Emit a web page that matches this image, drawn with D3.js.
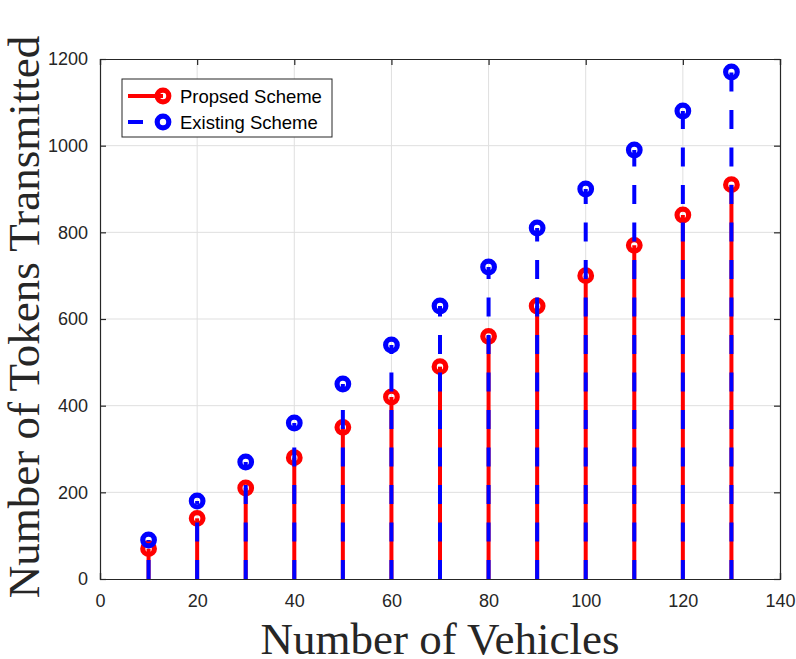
<!DOCTYPE html>
<html lang="en">
<head>
<meta charset="utf-8">
<title>tokens transmitted</title>
<script type="text/javascript" src="https://d3js.org/d3.v7.min.js"></script>
<style type="text/css">
    body{ margin:0; padding:0; background:#fff; }
    svg{ display:block; }
</style>
</head>
<body>
<div id="chart"></div>
<script type="text/javascript">
    // values
    var vehicles = [10,20,30,40,50,60,70,80,90,100,110,120,130]
    var proposed = [70,140,210,280,350,420,490,560,630,700,770,840,910]
    var existing = [90,180,270,360,450,540,630,720,810,900,990,1080,1170]
    var xTicks = [0,20,40,60,80,100,120,140]
    var yTicks = [0,200,400,600,800,1000,1200]
    var seriesNames = ["Propsed Scheme","Existing Scheme"]

    var W = 796, H = 659
    // plot box (note: "top" is reserved on window, so use p-prefixed names)
    var pLeft = 100, pRight = 780, pTop = 59, pBottom = 579

    var svg = d3.select("#chart").append("svg")
        .attr("width",W).attr("height",H)

    var x = d3.scaleLinear().domain([0,140]).range([pLeft,pRight])
    var y = d3.scaleLinear().domain([0,1200]).range([pBottom,pTop])

    // grid
    svg.append("g").selectAll("line").data(xTicks.slice(1,-1)).enter().append("line")
        .attr("x1",d=>x(d)).attr("x2",d=>x(d)).attr("y1",pTop).attr("y2",pBottom)
        .attr("stroke","#dfdfdf").attr("stroke-width",1)
    svg.append("g").selectAll("line").data(yTicks.slice(1,-1)).enter().append("line")
        .attr("y1",d=>y(d)).attr("y2",d=>y(d)).attr("x1",pLeft).attr("x2",pRight)
        .attr("stroke","#dfdfdf").attr("stroke-width",1)

    // axes, ticks inside
    var tickFont = "Liberation Sans, Arial, sans-serif"
    var fmt = d3.format("d")
    svg.append("g").attr("transform","translate(0,"+pBottom+")")
        .call(d3.axisBottom(x).tickValues(xTicks).tickSize(-6).tickPadding(15).tickFormat(fmt))
    svg.append("g").attr("transform","translate("+pLeft+",0)")
        .call(d3.axisLeft(y).tickValues(yTicks).tickSize(-6).tickPadding(12).tickFormat(fmt))
    svg.append("g").attr("transform","translate(0,"+pTop+")")
        .call(d3.axisTop(x).tickValues(xTicks).tickSize(-6).tickFormat(""))
    svg.append("g").attr("transform","translate("+pRight+",0)")
        .call(d3.axisRight(y).tickValues(yTicks).tickSize(-6).tickFormat(""))
    svg.selectAll(".domain").attr("stroke","#262626").attr("stroke-width",1.2)
    svg.selectAll(".tick line").attr("stroke","#262626").attr("stroke-width",1.2)
    svg.selectAll(".tick text").attr("fill","#262626")
        .style("font-family",tickFont).style("font-size","18px")

    // stems
    function drawStems(vals,color,dash){
        var g = svg.append("g")
        g.selectAll("line").data(vals).enter().append("line")
            .attr("x1",(d,i)=>x(vehicles[i])).attr("x2",(d,i)=>x(vehicles[i]))
            .attr("y1",y(0)).attr("y2",d=>y(d))
            .attr("stroke",color).attr("stroke-width",4)
            .attr("stroke-dasharray",dash)
        g.selectAll("circle").data(vals).enter().append("circle")
            .attr("cx",(d,i)=>x(vehicles[i])).attr("cy",d=>y(d))
            .attr("r",5.8).attr("fill","none")
            .attr("stroke",color).attr("stroke-width",5.2)
    }
    drawStems(proposed,"#ff0000",null)
    drawStems(existing,"#0000ff","19,18.5")

    // legend
    var lg = svg.append("g")
    lg.append("rect").attr("x",122).attr("y",79).attr("width",210).attr("height",58)
        .attr("fill","#fff").attr("stroke","#262626").attr("stroke-width",1)
    var colors = ["#ff0000","#0000ff"]
    seriesNames.forEach(function(name,i){
        var ly = 96 + i*26
        lg.append("line").attr("x1",128).attr("x2",163).attr("y1",ly).attr("y2",ly)
            .attr("stroke",colors[i]).attr("stroke-width",4)
            .attr("stroke-dasharray",i==1 ? "15,20" : null)
        lg.append("circle").attr("cx",163).attr("cy",ly).attr("r",5.8)
            .attr("fill","none").attr("stroke",colors[i]).attr("stroke-width",5.2)
        lg.append("text").attr("x",180).attr("y",ly+6.5).text(name)
            .style("font-family",tickFont).style("font-size","18.5px").attr("fill","#000")
    })

    // axis titles
    svg.append("text").attr("x",(pLeft+pRight)/2).attr("y",654)
        .attr("text-anchor","middle").text("Number of Vehicles")
        .style("font-family","Liberation Serif, Times New Roman, serif")
        .style("font-size","45px").attr("fill","#262626")
    svg.append("text").attr("transform","translate(39,"+((pTop+pBottom)/2-2)+") rotate(-90)")
        .attr("text-anchor","middle").text("Number of Tokens Transmitted")
        .style("font-family","Liberation Serif, Times New Roman, serif")
        .style("font-size","45px").attr("fill","#262626")
</script>
</body>
</html>
